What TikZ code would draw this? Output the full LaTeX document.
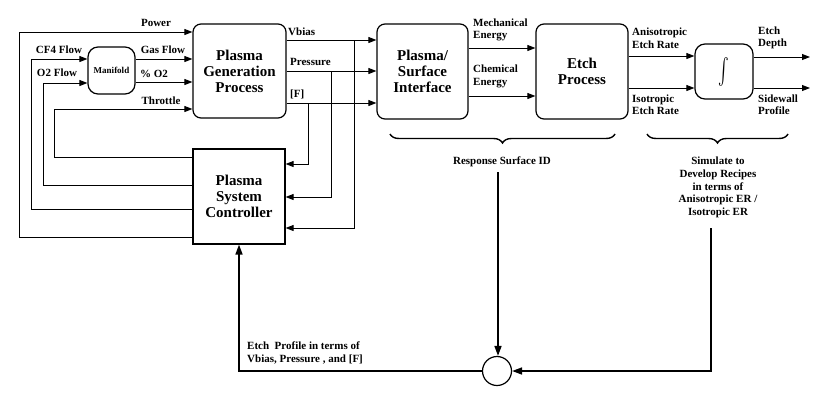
\documentclass[tikz,border=0pt]{standalone}
\usepackage{fontspec}
\setmainfont{Liberation Serif}
\usetikzlibrary{arrows.meta,decorations.pathreplacing}
\begin{document}
\begin{tikzpicture}[x=1pt,y=-1pt,
  font=\bfseries,
  conn/.style={line width=0.9pt,-{Triangle[length=8pt,width=6pt]}},
  plain/.style={line width=0.9pt},
  thick conn/.style={line width=1.6pt,-{Triangle[length=10pt,width=7pt]}},
  thick plain/.style={line width=1.6pt},
  bigbox/.style={draw,line width=1.2pt,rounded corners=8pt,align=center,
     font=\fontsize{15}{16}\selectfont\bfseries,inner sep=0pt},
  lab/.style={font=\fontsize{11}{12.5}\selectfont\bfseries,inner sep=0pt,align=left},
  clab/.style={font=\fontsize{11}{12.5}\selectfont\bfseries,inner sep=0pt,align=center},
  brc/.style={decorate,decoration={brace,amplitude=9pt,mirror},line width=1.4pt}]
\useasboundingbox (0,0) rectangle (822,413);

% boxes
\node[bigbox,minimum width=93pt,minimum height=94pt] (pgp) at (239.5,71) {Plasma\\Generation\\Process};
\node[draw,line width=1.2pt,rounded corners=10pt,minimum width=47pt,minimum height=47pt,
      inner sep=0pt,font=\fontsize{9}{10}\selectfont\bfseries] (man) at (111.5,70.5) {Manifold};
\node[bigbox,rounded corners=0pt,minimum width=92pt,minimum height=95pt] (ctrl) at (239,196.5) {Plasma\\System\\Controller};
\node[bigbox,minimum width=91pt,minimum height=95pt] (psi) at (422.5,71.5) {Plasma/\\Surface\\Interface};
\node[bigbox,minimum width=92pt,minimum height=95pt] (etch) at (582,71.5) {Etch\\Process};
\node[draw,line width=1.2pt,rounded corners=10pt,minimum width=58pt,minimum height=55pt,inner sep=0pt] (integ) at (724,71.5) {\scalebox{1.6}[2.6]{$\int$}};
\node[draw,circle,line width=1.2pt,minimum size=29pt,inner sep=0pt] (circ) at (497,371) {};

% left side inputs
\draw[conn] (ctrl.west |- 0,237) -| (19,32) -- (pgp.west |- 0,32);
\draw[conn] (ctrl.west |- 0,209) -| (31,59) -- (man.west |- 0,59);
\draw[conn] (ctrl.west |- 0,185) -| (43,83) -- (man.west |- 0,83);
\draw[conn] (ctrl.west |- 0,157) -| (54,109) -- (pgp.west |- 0,109);
\draw[conn] (man.east |- 0,59) -- (pgp.west |- 0,59);
\draw[conn] (man.east |- 0,82) -- (pgp.west |- 0,82);

\node[clab] (lpower) at (156,23) {Power};
\node[clab] (lcf4) at (59,50) {CF4 Flow};
\node[clab] (lo2) at (57,73) {O2 Flow};
\node[clab] (lgas) at (163,50) {Gas Flow};
\node[clab] (lpo2) at (154,74) {\% O2};
\node[clab] (lthr) at (161,101) {Throttle};

% PGP outputs
\draw[conn] (pgp.east |- 0,40) -- (psi.west |- 0,40);
\draw[conn] (pgp.east |- 0,71) -- (psi.west |- 0,71);
\draw[conn] (pgp.east |- 0,103) -- (psi.west |- 0,103);
\draw[conn] (354,40) -- (354,228) -- (ctrl.east |- 0,228);
\draw[conn] (331,71) -- (331,197) -- (ctrl.east |- 0,197);
\draw[conn] (308,103) -- (308,164) -- (ctrl.east |- 0,164);
\node[lab,anchor=west] (lvb) at (288,32) {Vbias};
\node[lab,anchor=west] (lpr) at (290,62) {Pressure};
\node[lab,anchor=west] (lf) at (290,94) {[F]};

% PSI -> Etch
\draw[conn] (psi.east |- 0,48) -- (etch.west |- 0,48);
\draw[conn] (psi.east |- 0,96) -- (etch.west |- 0,96);
\node[lab,anchor=west] (lmech) at (473,30) {Mechanical\\Energy};
\node[lab,anchor=west] (lchem) at (473,76.5) {Chemical\\Energy};

% Etch -> integ
\draw[conn] (etch.east |- 0,56) -- (integ.west |- 0,56);
\draw[conn] (etch.east |- 0,88) -- (integ.west |- 0,88);
\node[lab,anchor=west] (lani) at (632,38) {Anisotropic\\Etch Rate};
\node[lab,anchor=west] (liso) at (632,104.5) {Isotropic\\Etch Rate};

% outputs
\coordinate (od) at (810,57);
\coordinate (os) at (810,88);
\draw[conn] (integ.east |- od) -- (od);
\draw[conn] (integ.east |- os) -- (os);
\node[lab,anchor=west] (ldep) at (758,38) {Etch\\Depth};
\node[lab,anchor=west] (lside) at (758,104.5) {Sidewall\\Profile};

% braces
\draw[brc] (390,134) -- (615,134);
\draw[brc] (647,134) -- (788,134);
\node[clab] (rsid) at (502,162) {Response Surface ID};
\node[clab,font=\fontsize{11}{12.7}\selectfont\bfseries] (sim) at (718,187.5) {Simulate to\\Develop Recipes\\in terms of\\Anisotropic ER /\\Isotropic ER};

% feedback
\coordinate (rs) at (498,172);
\coordinate (ss) at (711,228);
\draw[thick conn] (rs) -- (rs |- circ.north);
\draw[thick conn] (ss) |- (circ.east);
\draw[thick conn] (circ.west) -| (ctrl.south);
\node[lab,anchor=west] (lprof) at (247,353) {Etch\ \ Profile in terms of\\Vbias, Pressure , and [F]};
\end{tikzpicture}
\end{document}
